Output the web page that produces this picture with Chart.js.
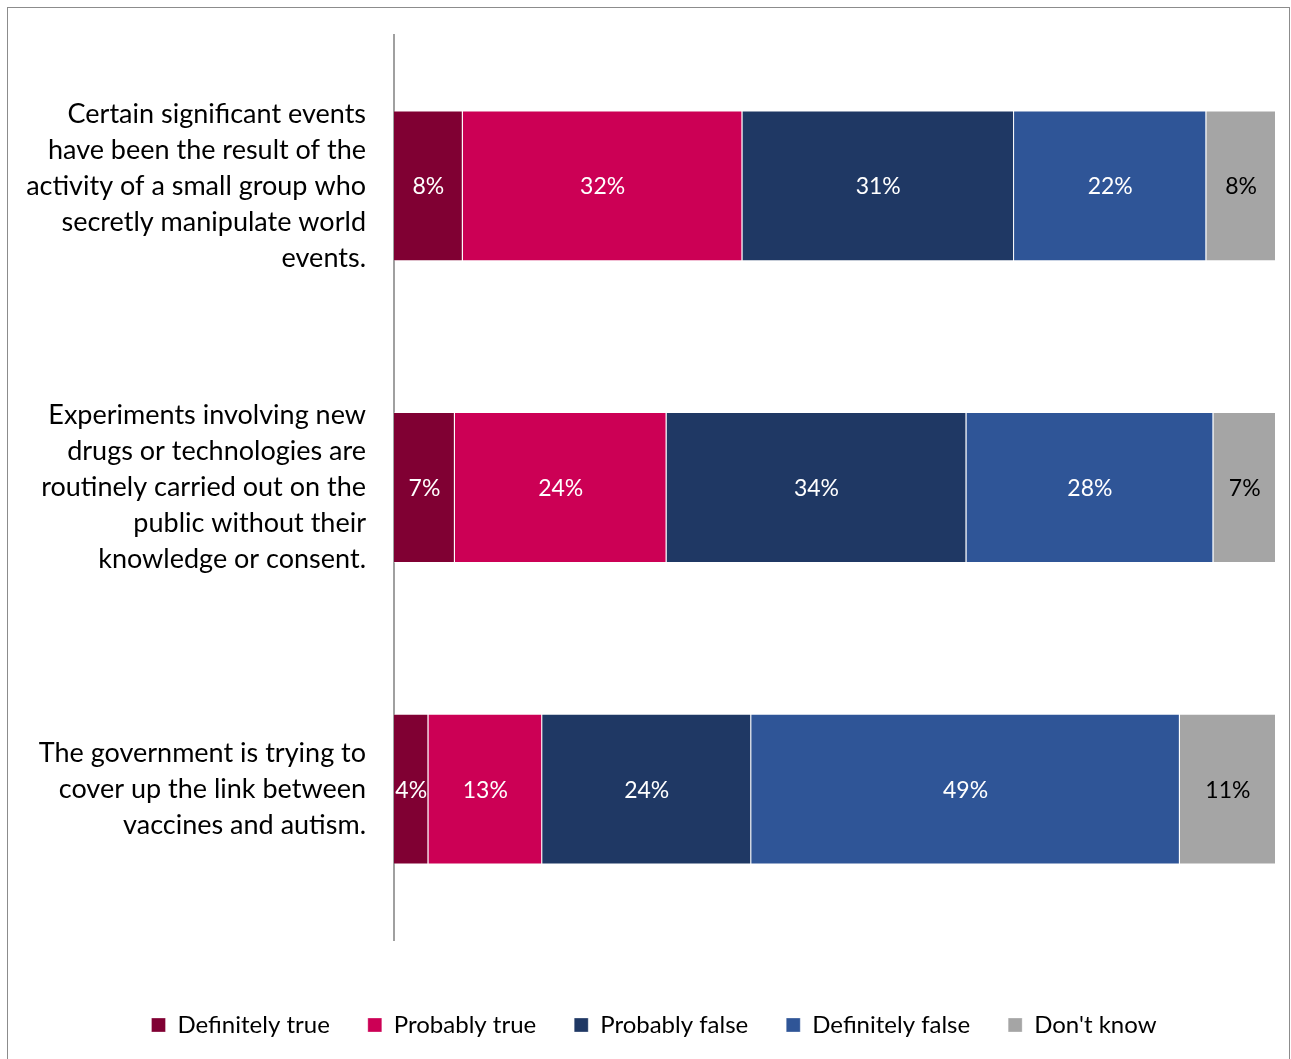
<!DOCTYPE html>
<html>
<head>
<meta charset="utf-8">
<script src="https://cdn.jsdelivr.net/npm/chart.js@4.4.1/dist/chart.umd.min.js"></script>
<style>
  html, body { margin: 0; padding: 0; background: #fff; }
  canvas { display: block; }
</style>
</head>
<body>
<canvas id="beliefsChart" width="1291" height="1059"></canvas>
<script>
// statements (multi-line labels)
const statements = [
    ['Certain significant events', 'have been the result of the', 'activity of a small group who', 'secretly manipulate world', 'events.'],
    ['Experiments involving new', 'drugs or technologies are', 'routinely carried out on the', 'public without their', 'knowledge or consent.'],
    ['The government is trying to', 'cover up the link between', 'vaccines and autism.']
];

// % of respondents per answer, one value per statement
const definitelyTrue  = [7.8, 6.9, 3.9];
const probablyTrue    = [31.7, 24.0, 12.9];
const probablyFalse   = [30.8, 34.0, 23.7];
const definitelyFalse = [21.8, 28.0, 48.6];
const dontKnow        = [7.9, 7.1, 10.9];

const answerNames  = ['Definitely true', 'Probably true', 'Probably false', 'Definitely false', "Don't know"];
const answerColors = ['#800033', '#cc0055', '#1f3864', '#2f5597', '#a5a5a5'];
const answerSeries = [definitelyTrue, probablyTrue, probablyFalse, definitelyFalse, dontKnow];

const FONT = 'Lato, "Noto Sans", sans-serif';

// percentage printed in the middle of each segment
const segmentLabels = {
    id: 'segmentLabels',
    afterDatasetsDraw(chart) {
        const ctx = chart.ctx;
        ctx.save();
        ctx.font = '23px ' + FONT;
        ctx.textAlign = 'center';
        ctx.textBaseline = 'middle';
        chart.data.datasets.forEach((ds, i) => {
            const meta = chart.getDatasetMeta(i);
            ctx.fillStyle = i === 4 ? '#000000' : '#ffffff';
            meta.data.forEach((bar, j) => {
                const cx = (bar.x + bar.base) / 2;
                ctx.fillText(Math.round(ds.data[j]) + '%', cx, bar.y + 1);
            });
        });
        ctx.restore();
    }
};

// thin grey frame round the whole chart
const outerFrame = {
    id: 'outerFrame',
    beforeDraw(chart) {
        const ctx = chart.ctx;
        ctx.save();
        ctx.strokeStyle = '#8c8c8c';
        ctx.lineWidth = 1;
        ctx.strokeRect(7.5, 7.5, 1282, 1100);
        ctx.restore();
    }
};

// push the legend a bit lower and to the right of its default box
const legendOffset = {
    id: 'legendOffset',
    afterLayout(chart) {
        const lg = chart.legend;
        if (!lg) return;
        lg.left += 16;
        lg.right += 16;
        lg.top += 35;
        lg.bottom += 35;
    }
};

const ctx = document.getElementById('beliefsChart').getContext('2d');

new Chart(ctx, {
    type: 'bar',
    data: {
        labels: statements,
        datasets: answerSeries.map((values, i) => ({
            label: answerNames[i],
            data: values,
            backgroundColor: answerColors[i],
            borderColor: 'rgba(255,255,255,0.3)',
            borderWidth: 1,
            barPercentage: 1,
            categoryPercentage: 0.5
        }))
    },
    options: {
        indexAxis: 'y',
        responsive: false,
        animation: false,
        layout: { padding: { top: 35, right: 15, bottom: 47, left: 0 } },
        scales: {
            x: {
                stacked: true,
                min: 0,
                max: 100,
                display: false
            },
            y: {
                stacked: true,
                grid: { display: false, drawTicks: false },
                border: { display: true, color: '#a0a0a0', width: 2 },
                ticks: {
                    color: '#000000',
                    padding: 28,
                    font: { family: FONT, size: 27, lineHeight: 1.333 }
                },
                afterFit(scale) {
                    scale.width = 394;
                    scale.paddingTop = 0;
                    scale.paddingBottom = 0;
                }
            }
        },
        plugins: {
            legend: {
                position: 'bottom',
                labels: {
                    color: '#000000',
                    boxWidth: 14,
                    boxHeight: 14,
                    padding: 38,
                    font: { family: FONT, size: 24 }
                }
            },
            tooltip: { enabled: false }
        }
    },
    plugins: [segmentLabels, outerFrame, legendOffset]
});
</script>
</body>
</html>
